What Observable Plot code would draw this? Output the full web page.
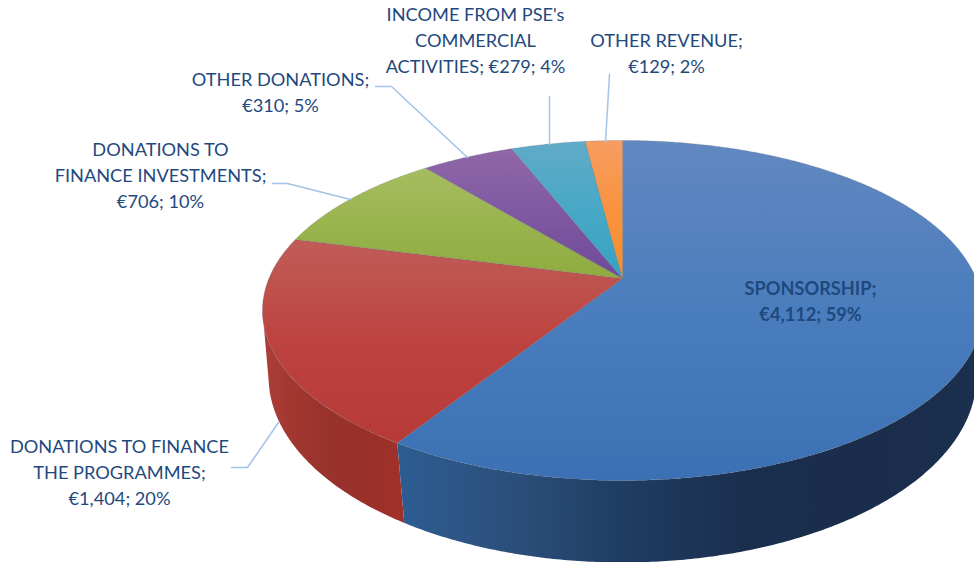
<!DOCTYPE html>
<html><head><meta charset="utf-8">
<script src="https://cdn.jsdelivr.net/npm/d3@7"></script>
<script src="https://cdn.jsdelivr.net/npm/@observablehq/plot@0.6"></script>
<style>html,body{margin:0;padding:0;background:#fff;overflow:hidden}</style>
</head><body><div id="chart"></div>
<script>
// data, in slice order clockwise from twelve o'clock
const categories = ["SPONSORSHIP","DONATIONS TO FINANCE THE PROGRAMMES","DONATIONS TO FINANCE INVESTMENTS","OTHER DONATIONS","INCOME FROM PSE's COMMERCIAL ACTIVITIES","OTHER REVENUE"];
const amounts = [4112,1404,706,310,279,129];
const percents = [59,20,10,5,4,2];
const labels = [
  "SPONSORSHIP;\n€4,112; 59%",
  "DONATIONS TO FINANCE\nTHE PROGRAMMES;\n€1,404; 20%",
  "DONATIONS TO\nFINANCE INVESTMENTS;\n€706; 10%",
  "OTHER DONATIONS;\n€310; 5%",
  "INCOME FROM PSE's\nCOMMERCIAL\nACTIVITIES; €279; 4%",
  "OTHER REVENUE;\n€129; 2%"
];
// layout and style
const W = 974, H = 562;
const labelAt = [[810,299],[119,470],[160,173],[280,90],[475,38],[666,51]];
const leaders = [null,
  [[231,467],[247,467],[278,422]],
  [[272,183],[287,183],[350,199]],
  [[375,86],[391,86],[467,157]],
  [[549,96],[549,144]],
  [[609,74],[605,142]]
];
const faceStops = [
  ["#6288c0","#4a7dbd","#3b71b4"],
  ["#c05c58","#bd4340","#b73a37"],
  ["#a6bd60","#9ab44e","#8fab40"],
  ["#9068a8","#8058a2","#6f4a98"],
  ["#60abc8","#48a8c6","#35a3c2"],
  ["#f79c62","#f8933e","#f78d2c"]
];
const wallStops = {0:["#2d5d92","#2b4f7b","#1f3c61","#1a2f4e","#1a2d4b","#1b2f4e"],1:["#ad3d39","#a1372f","#98322d","#98302a","#a0302a"]};
const top_ = {cx:622, cy:278, A:353.6, B:164, k:0.188};
const bot_ = {cx:622, cy:344.4, A:348.8, B:180.6, k:0.17};
const rad = d => d*Math.PI/180;
const proj = (e,t) => { const u=Math.sin(rad(t)), v=-Math.cos(rad(t)), w=1-e.k*v; return {x:e.cx+e.A*u/w, y:e.cy+e.B*v/w}; };
const arc = (e,a,b) => { const n=Math.max(2,Math.ceil(Math.abs(b-a))*2); return d3.range(n+1).map(i=>proj(e,a+(b-a)*i/n)); };

const total = d3.sum(percents);
const cum = d3.cumsum(percents);
const startA = i => (i?cum[i-1]:0)/total*360, endA = i => cum[i]/total*360;
const tR = Math.acos(-top_.k)*180/Math.PI, tL = 360-tR;

const marks = [];
// gradients
marks.push(() => {
  const defs = d3.create("svg:defs");
  const grad = (id,x1,y1,x2,y2,stops) => {
    const g = defs.append("linearGradient").attr("id",id).attr("gradientUnits","userSpaceOnUse")
      .attr("x1",x1).attr("y1",y1).attr("x2",x2).attr("y2",y2);
    stops.forEach((c,i)=>g.append("stop").attr("offset",i/(stops.length-1)).attr("stop-color",c));
  };
  categories.forEach((_,i)=>{
    const pts=[proj(top_,startA(i)),...arc(top_,startA(i),endA(i)),{x:top_.cx,y:top_.cy}];
    grad("face"+i,0,d3.min(pts,p=>p.y),0,d3.max(pts,p=>p.y),faceStops[i]);
  });
  const sx = proj(top_,endA(0)).x;
  grad("wall0",sx,0,W,0,wallStops[0]);
  grad("wall1",proj(top_,tL).x,0,sx,0,wallStops[1]);
  return defs.node();
});
// side walls
const wallPoly = (a,b) => [...arc(top_,a,b),...arc(bot_,b,a)];
marks.push(Plot.line(wallPoly(endA(0),tL),{x:"x",y:"y",fill:"url(#wall1)",stroke:"none"}));
marks.push(Plot.line(wallPoly(tR,endA(0)),{x:"x",y:"y",fill:"url(#wall0)",stroke:"none"}));
// top faces
categories.forEach((_,i)=>{
  const pts=[{x:top_.cx,y:top_.cy},...arc(top_,startA(i),endA(i)),{x:top_.cx,y:top_.cy}];
  marks.push(Plot.line(pts,{x:"x",y:"y",fill:`url(#face${i})`,stroke:"#5b6470",strokeOpacity:0.3,strokeWidth:0.8}));
});
// leader lines
leaders.forEach(l=>{ if(l) marks.push(Plot.line(l.map(([x,y])=>({x,y})),{x:"x",y:"y",stroke:"#a2c3e8",strokeWidth:1.5})); });
// labels
const rows = labels.map((t,i)=>({t,x:labelAt[i][0],y:labelAt[i][1],bold:i===0}));
const txt = (data,weight) => Plot.text(data,{x:"x",y:"y",text:"t",textAnchor:"middle",lineAnchor:"middle",lineHeight:26/18.2,
  fontSize:18.2,fontFamily:"Lato",fontWeight:weight,fill:"#1f497d"});
marks.push(txt(rows.filter(r=>!r.bold),400));
marks.push(txt(rows.filter(r=>r.bold),700));

const chart = Plot.plot({width:W,height:H,margin:0,
  x:{domain:[0,W],range:[0,W],axis:null},
  y:{domain:[0,H],range:[0,H],axis:null},
  marks});
document.getElementById("chart").append(chart);
</script></body></html>
